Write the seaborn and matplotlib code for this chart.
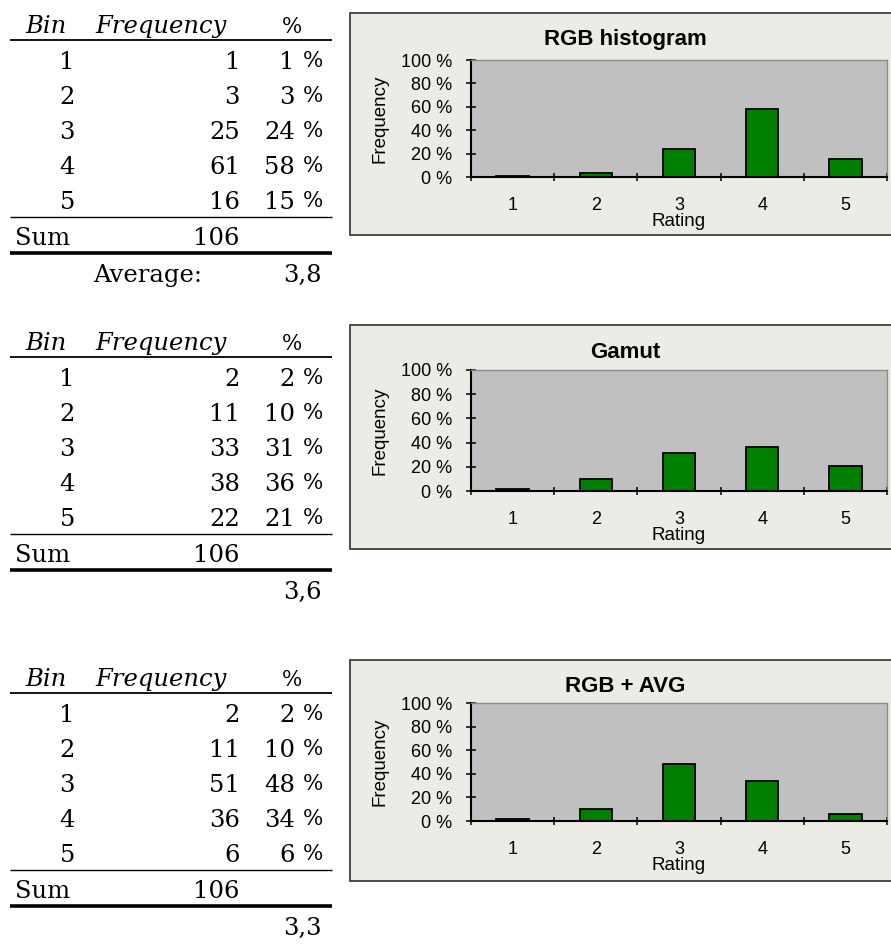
import matplotlib
matplotlib.use("Agg")
import matplotlib.pyplot as plt
import seaborn as sns
import pandas as pd
from matplotlib.lines import Line2D
from matplotlib.patches import Rectangle

# ---------------- data ----------------
bins = ["1", "2", "3", "4", "5"]
titles = ["RGB histogram", "Gamut", "RGB + AVG"]
freq_rgb = [1, 3, 25, 61, 16]
pct_rgb = [1, 3, 24, 58, 15]
freq_gamut = [2, 11, 33, 38, 22]
pct_gamut = [2, 10, 31, 36, 21]
freq_avg = [2, 11, 51, 36, 6]
pct_avg = [2, 10, 48, 34, 6]
sums = [106, 106, 106]
averages = ["3,8", "3,6", "3,3"]
ytick_vals = [0, 20, 40, 60, 80, 100]
ytick_labels = ["0 %", "20 %", "40 %", "60 %", "80 %", "100 %"]
x_label = "Rating"
y_label = "Frequency"

sns.set_style("white")
plt.rcParams["font.family"] = ["Liberation Sans", "DejaVu Sans"]

W, H = 891, 947
fig = plt.figure(figsize=(W / 100, H / 100), dpi=100)
fig.patch.set_facecolor("white")


def fx(x):
    return x / W


def fy(y):
    return 1 - y / H


def hline(x0, x1, y, lw):
    fig.add_artist(Line2D([fx(x0), fx(x1)], [fy(y), fy(y)], transform=fig.transFigure,
                          color="black", lw=lw, solid_capstyle="butt"))


SERIF = "DejaVu Serif"
TFS = 17.5


def ttext(x, y, s, ha="left", size=TFS, style="normal"):
    fig.text(fx(x), fy(y), s, ha=ha, va="baseline", family=SERIF, size=size,
             fontstyle=style, color="black")


def table(dy, freqs, pcts, total, avg, show_avg_label):
    ttext(25, 33 + dy, "Bin", style="italic")
    ttext(95, 33 + dy, "Frequency", style="italic")
    ttext(292, 33 + dy, "%", ha="center", size=15.5)
    hline(10, 332, 40 + dy, 1.3)
    for i, (b, f, p) in enumerate(zip(bins, freqs, pcts)):
        yb = 69 + 35 * i + dy
        ttext(75, yb, b, ha="right")
        ttext(240, yb, str(f), ha="right")
        ttext(295, yb, str(p), ha="right")
        ttext(303, yb - 2, "%", size=15.5)
    hline(10, 332, 217 + dy, 1.0)
    ttext(15, 245 + dy, "Sum")
    ttext(240, 245 + dy, str(total), ha="right")
    hline(10, 332, 253 + dy, 2.6)
    if show_avg_label:
        ttext(93, 282 + dy, "Average:")
    ttext(322, 282 + dy, avg, ha="right")


def chart(box_top, box_bot, p_top, p_bot, title_y, title, pcts):
    rect = Rectangle((fx(350), fy(box_bot)), fx(960) - fx(350), (box_bot - box_top) / H,
                     transform=fig.transFigure, facecolor="#ECEBE6", edgecolor="#303030",
                     lw=1.2, zorder=-1)
    fig.add_artist(rect)
    fig.text(fx(625), fy(title_y), title, ha="center", va="center", fontweight="bold",
             size=16, color="black")
    ax = fig.add_axes([fx(471), fy(p_bot), (887 - 471) / W, (p_bot - p_top) / H])
    ax.set_facecolor("#C0C0C0")
    df = pd.DataFrame({x_label: bins, "Pct": pcts})
    sns.barplot(data=df, x=x_label, y="Pct", color="#008000", saturation=1,
                edgecolor="black", linewidth=1.3, width=0.39, errorbar=None, ax=ax)
    ax.set_xlim(-0.5, 4.5)
    ax.set_ylim(0, 100)
    ax.set_yticks(ytick_vals)
    ax.set_yticklabels(ytick_labels)
    ax.set_xticks(range(len(bins)))
    ax.set_xticklabels(bins)
    ax.set_xticks([i - 0.5 for i in range(len(bins) + 1)], minor=True)
    ax.tick_params(axis="y", direction="inout", length=7, width=1.1, pad=10,
                   labelsize=13, left=True, colors="black")
    ax.tick_params(axis="x", which="major", length=0, pad=14.5, labelsize=13, colors="black")
    ax.tick_params(axis="x", which="minor", direction="inout", length=6, width=1.1,
                   bottom=True, colors="black")
    for s in ["left", "bottom"]:
        ax.spines[s].set_color("black")
        ax.spines[s].set_linewidth(1.5)
        ax.spines[s].set_visible(True)
    for s in ["top", "right"]:
        ax.spines[s].set_color("#8A8A8A")
        ax.spines[s].set_linewidth(1.0)
        ax.spines[s].set_visible(True)
    ax.set_xlabel(x_label, fontsize=13.5, color="black")
    ax.set_ylabel(y_label, fontsize=13.5, color="black")
    ax.xaxis.set_label_coords(0.5, -49 / (p_bot - p_top))
    ax.xaxis.label.set_verticalalignment("baseline")
    ax.yaxis.set_label_coords((380 - 471) / (887 - 471), 0.5)
    ax.yaxis.label.set_verticalalignment("center")
    ax.grid(False)


table(0, freq_rgb, pct_rgb, sums[0], averages[0], True)
table(317, freq_gamut, pct_gamut, sums[1], averages[1], False)
table(653, freq_avg, pct_avg, sums[2], averages[2], False)

chart(13, 235, 60, 177, 40, titles[0], pct_rgb)
chart(325, 549, 370, 491, 353, titles[1], pct_gamut)
chart(660, 881, 703, 821, 686, titles[2], pct_avg)

fig.savefig("out.png", dpi=100, facecolor="white")
